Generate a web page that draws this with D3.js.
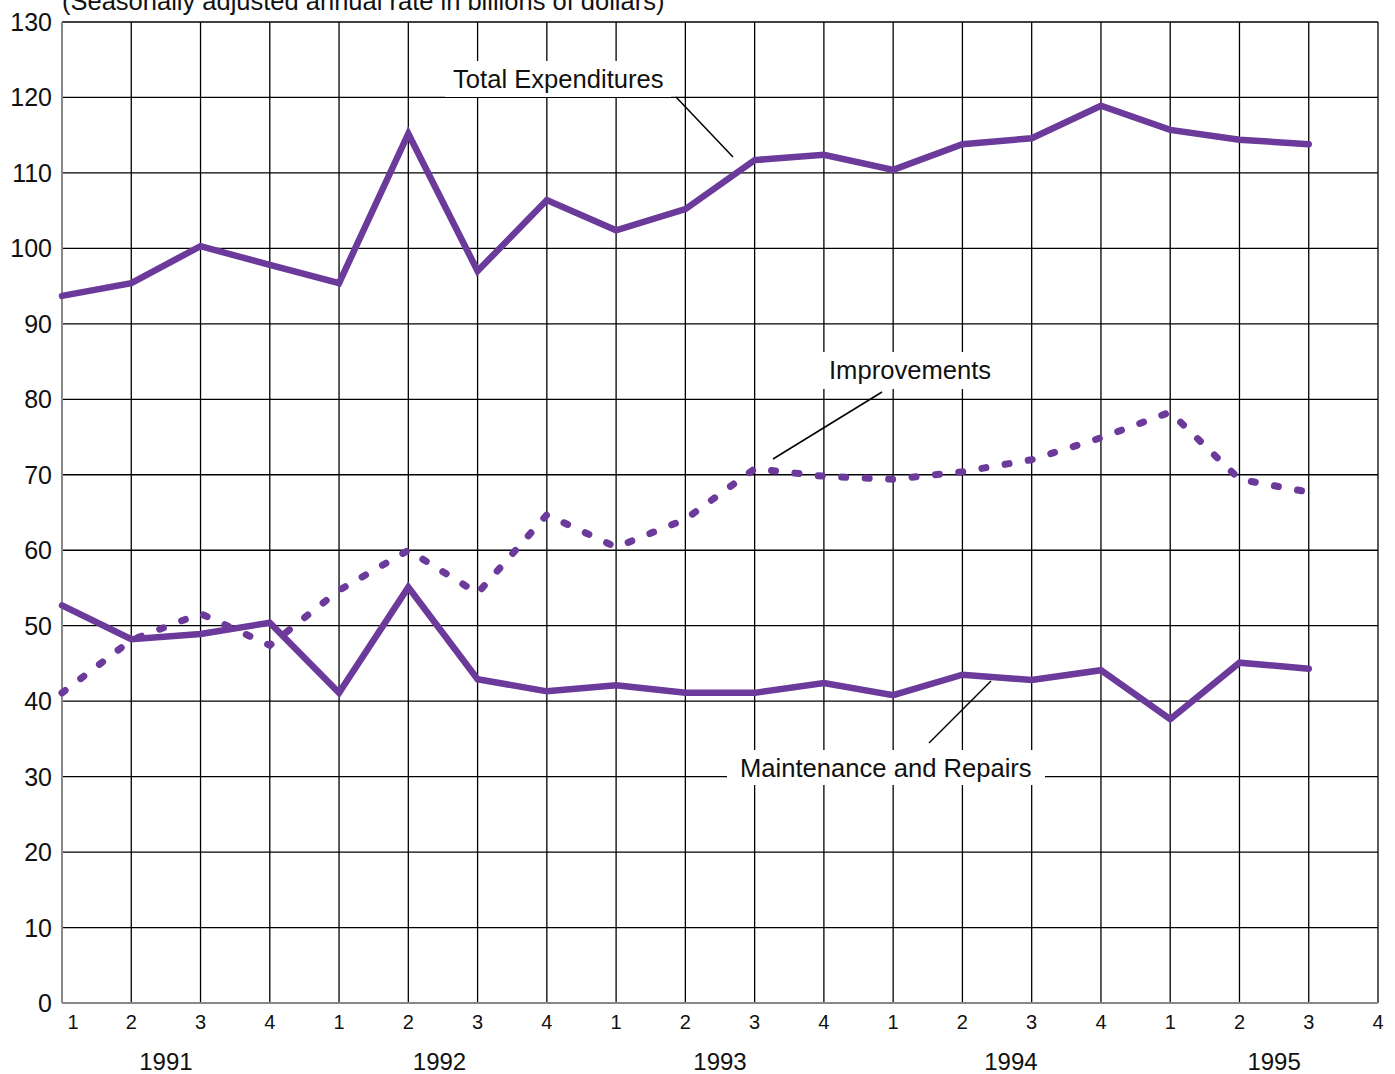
<!DOCTYPE html>
<html>
<head>
<meta charset="utf-8">
<script src="https://cdn.jsdelivr.net/npm/d3@7"></script>
<style>
  body { margin: 0; background: white; }
  text { font-family: "Liberation Sans", Arial, sans-serif; fill: #111; }
</style>
</head>
<body>
<div id="chart"></div>
<script>
// Quarters 1991 Q1 .. 1995 Q3
const quarterLabels = ["1", "2", "3", "4"];
const years = ["1991", "1992", "1993", "1994", "1995"];
// where the year label sits, in quarter-index units
const yearAt = [1.5, 5.45, 9.5, 13.7, 17.5];
const yTicks = d3.range(0, 131, 10);

const totalExp = [93.7, 95.4, 100.3, 97.8, 95.4, 115.2, 97.0, 106.4, 102.4, 105.2,
                  111.7, 112.4, 110.4, 113.8, 114.6, 118.9, 115.7, 114.4, 113.8];
const improvements = [41.1, 48.1, 51.6, 47.4, 54.7, 60.0, 54.3, 64.7, 60.4, 64.1,
                      70.8, 69.8, 69.4, 70.4, 72.0, 74.9, 78.3, 69.4, 67.7];
const maintenance = [52.7, 48.2, 48.9, 50.4, 41.1, 55.1, 42.9, 41.3, 42.1, 41.1,
                     41.1, 42.4, 40.8, 43.5, 42.8, 44.1, 37.6, 45.1, 44.3];

const purple = "#6b3a9a";
const W = 1395, H = 1074;
const mLeft = 62, mRight = 1378, mTop = 22, mBottom = 1003;

const svg = d3.select("#chart").append("svg").attr("width", W).attr("height", H);

const x = d3.scaleLinear().domain([0, 19]).range([mLeft, mRight]);
const y = d3.scaleLinear().domain([0, 130]).range([mBottom, mTop]);

// grid
const grid = svg.append("g");
grid.selectAll("line.v").data(d3.range(1, 20)).enter().append("line")
    .attr("x1", d => x(d)).attr("x2", d => x(d))
    .attr("y1", mTop).attr("y2", mBottom)
    .attr("stroke", "black").attr("stroke-width", 1.3);
grid.selectAll("line.h").data(yTicks.slice(1)).enter().append("line")
    .attr("x1", mLeft).attr("x2", mRight)
    .attr("y1", d => y(d)).attr("y2", d => y(d))
    .attr("stroke", "black").attr("stroke-width", 1.3);

// axes (gray)
svg.append("line").attr("x1", mLeft).attr("x2", mLeft).attr("y1", mTop).attr("y2", mBottom)
    .attr("stroke", "#888").attr("stroke-width", 2);
svg.append("line").attr("x1", mLeft).attr("x2", mRight).attr("y1", mBottom).attr("y2", mBottom)
    .attr("stroke", "#888").attr("stroke-width", 2);

// y labels
svg.selectAll("text.yt").data(yTicks).enter().append("text")
    .attr("x", 52).attr("y", d => y(d)).attr("dy", "0.36em")
    .attr("text-anchor", "end").attr("font-size", 25)
    .text(d => d);

// quarter labels
svg.selectAll("text.q").data(d3.range(20)).enter().append("text")
    .attr("x", d => x(d) + (d === 0 ? 11 : 0)).attr("y", 1029)
    .attr("text-anchor", "middle").attr("font-size", 20)
    .text(d => quarterLabels[d % 4]);

// year labels
svg.selectAll("text.yr").data(years).enter().append("text")
    .attr("x", (d, i) => x(yearAt[i])).attr("y", 1070)
    .attr("text-anchor", "middle").attr("font-size", 24)
    .text(d => d);

// title (clipped by the top edge, as in the original)
svg.append("text").attr("x", 62).attr("y", 10).attr("font-size", 25.5)
    .text("(Seasonally adjusted annual rate in billions of dollars)");

// series
const line = d3.line().x((d, i) => x(i)).y(d => y(d));

svg.append("path").datum(totalExp).attr("d", line)
    .attr("fill", "none").attr("stroke", purple).attr("stroke-width", 6.5)
    .attr("stroke-linecap", "round");
svg.append("path").datum(maintenance).attr("d", line)
    .attr("fill", "none").attr("stroke", purple).attr("stroke-width", 6.5)
    .attr("stroke-linecap", "round");
svg.append("path").datum(improvements).attr("d", line)
    .attr("fill", "none").attr("stroke", purple).attr("stroke-width", 7)
    .attr("stroke-linecap", "round").attr("stroke-dasharray", "4,19.5");

// annotations: label with white box + leader line
function note(label, tx, ty, box, lead) {
    svg.append("rect").attr("x", box[0]).attr("y", box[1])
        .attr("width", box[2]).attr("height", box[3]).attr("fill", "white");
    svg.append("text").attr("x", tx).attr("y", ty).attr("dy", "0.36em")
        .attr("font-size", 25.6).text(label);
    svg.append("line").attr("x1", lead[0]).attr("y1", lead[1])
        .attr("x2", lead[2]).attr("y2", lead[3])
        .attr("stroke", "black").attr("stroke-width", 1.5);
}
note("Total Expenditures", 453, 79, [445, 61, 226, 36], [676, 97, 733, 157]);
note("Improvements", 829, 370, [820, 352, 180, 37], [882, 392, 773, 459]);
note("Maintenance and Repairs", 740, 768, [727, 750, 318, 35], [991, 681, 929, 743]);
</script>
</body>
</html>
